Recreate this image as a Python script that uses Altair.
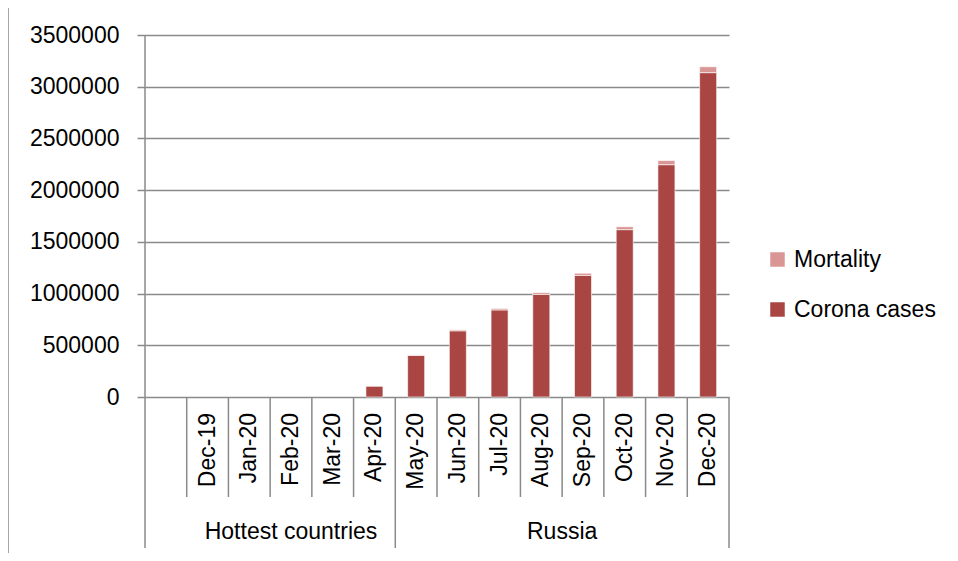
import altair as alt
import pandas as pd

# ---- data ----
months = ["", "Dec-19", "Jan-20", "Feb-20", "Mar-20", "Apr-20",
          "May-20", "Jun-20", "Jul-20", "Aug-20", "Sep-20", "Oct-20", "Nov-20", "Dec-20"]
groups = ["Hottest countries"] * 6 + ["Russia"] * 8
corona_cases = [0, 0, 0, 0, 0, 106000, 402000, 640000, 842000, 992000, 1176000, 1618000, 2246000, 3136000]
mortality = [0, 0, 0, 0, 0, 1000, 4700, 9300, 14000, 17000, 20700, 28000, 40000, 57000]
series_names = ["Mortality", "Corona cases"]
series_colors = ["#D99694", "#A94644"]
y_ticks = [0, 500000, 1000000, 1500000, 2000000, 2500000, 3000000, 3500000]

FONT = "Liberation Sans"
FS = 23
W, H = 584, 362
GRID = "#8a8a8a"

# long table for the stacked bars
rows = []
for i, m in enumerate(months):
    rows.append({"idx": i, "pos": i + 0.5, "month": m, "series": "Corona cases", "value": corona_cases[i], "ord": 0})
    rows.append({"idx": i, "pos": i + 0.5, "month": m, "series": "Mortality", "value": mortality[i], "ord": 1})
bars_df = pd.DataFrame(rows)

labels_df = pd.DataFrame({"pos": [i + 0.5 for i in range(len(months))], "month": months})

# category boundaries (short) and group boundaries (long)
n = len(months)
group_bounds = [b for b in range(1, n) if groups[b] != groups[b - 1]] + [n]
short_bounds = [b for b in range(1, n) if b not in group_bounds]
short_df = pd.DataFrame({"b": short_bounds})
long_df = pd.DataFrame({"b": group_bounds})

# group labels centred under their labelled categories
gnames = []
for g in groups:
    if g not in gnames:
        gnames.append(g)
gcent = []
for g in gnames:
    ids = [i for i in range(n) if groups[i] == g and months[i] != ""]
    gcent.append((min(ids) + max(ids) + 1) / 2)
groups_df = pd.DataFrame({"group": gnames, "pos": gcent})

xscale = alt.Scale(domain=[0, n], nice=False, zero=False, padding=0)

bars = alt.Chart(bars_df).transform_filter("datum.value > 0").mark_bar(
    size=17, stroke="white", strokeWidth=0.6).encode(
    x=alt.X("pos:Q", scale=xscale, axis=None),
    y=alt.Y("value:Q", stack="zero",
            scale=alt.Scale(domain=[0, 3500000], nice=False),
            axis=alt.Axis(values=y_ticks, format="d", title=None, grid=True,
                          gridColor=GRID, gridWidth=1.5, domain=False,
                          tickColor=GRID, tickSize=8, tickWidth=1.5,
                          labelFont=FONT, labelFontSize=FS, labelColor="black",
                          labelPadding=18)),
    color=alt.Color("series:N",
                    scale=alt.Scale(domain=series_names, range=series_colors),
                    legend=alt.Legend(title=None, orient="none", legendX=621, legendY=213,
                                      symbolType="square", symbolSize=210, symbolStrokeWidth=0,
                                      labelFont=FONT, labelFontSize=FS, labelColor="black",
                                      labelOffset=5, rowPadding=26, padding=0)),
    order=alt.Order("ord:Q"),
)

yaxis_line = alt.Chart(pd.DataFrame({"a": [0]})).mark_rule(color=GRID, strokeWidth=1.5).encode(
    x=alt.value(0), y=alt.value(0), y2=alt.value(513))

short_rules = alt.Chart(short_df).mark_rule(color=GRID, strokeWidth=1.5).encode(
    x=alt.X("b:Q", scale=xscale, axis=None), y=alt.value(H), y2=alt.value(462))

long_rules = alt.Chart(long_df).mark_rule(color=GRID, strokeWidth=1.5).encode(
    x=alt.X("b:Q", scale=xscale, axis=None), y=alt.value(H), y2=alt.value(513))

month_text = alt.Chart(labels_df).mark_text(
    angle=270, align="right", baseline="middle", font=FONT, fontSize=FS, color="black").encode(
    x=alt.X("pos:Q", scale=xscale, axis=None), y=alt.value(378), text="month:N")

group_text = alt.Chart(groups_df).mark_text(
    align="center", baseline="middle", font=FONT, fontSize=FS, color="black").encode(
    x=alt.X("pos:Q", scale=xscale, axis=None), y=alt.value(497), text="group:N")

frame_left = alt.Chart(pd.DataFrame({"a": [0]})).mark_rule(color=GRID, strokeWidth=1.5).encode(
    x=alt.value(-137), y=alt.value(-30), y2=alt.value(600))
frame_top = alt.Chart(pd.DataFrame({"a": [0]})).mark_rule(color=GRID, strokeWidth=1.5).encode(
    x=alt.value(-137), x2=alt.value(900), y=alt.value(-30))

chart = alt.layer(
    bars, yaxis_line, short_rules, long_rules, month_text, group_text, frame_left, frame_top
).properties(
    width=W, height=H,
    padding={"left": 137, "top": 27, "right": 221, "bottom": 156},
    autosize=alt.AutoSizeParams(type="none"),
).configure_view(stroke=None)

chart.save("out.html", embed_options={"renderer": "svg", "actions": False})
